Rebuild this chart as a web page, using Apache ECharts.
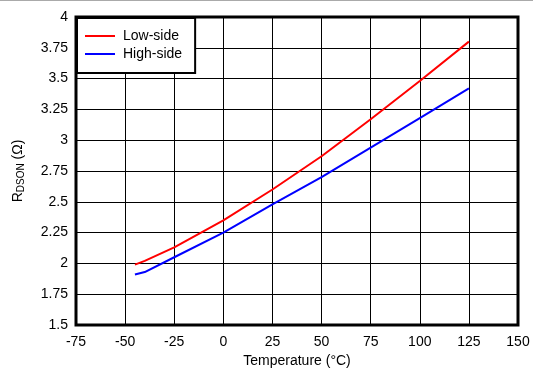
<!DOCTYPE html>
<html>
<head>
<meta charset="utf-8">
<script src="https://cdn.jsdelivr.net/npm/echarts@6/dist/echarts.min.js"></script>
<style>
html, body { margin: 0; padding: 0; background: #fff; }
#chart { width: 533px; height: 373px; }
</style>
</head>
<body>
<div id="chart"></div>
<script>
// temperatures (°C) and RDSON (ohm)
var temps = [-45, -40, -25, 0, 25, 50, 75, 100, 125];
var lowSide = [1.99, 2.02, 2.13, 2.35, 2.6, 2.87, 3.17, 3.48, 3.8];
var highSide = [1.91, 1.93, 2.05, 2.25, 2.48, 2.7, 2.94, 3.18, 3.42];

function pairs(xs, ys) {
    var out = [];
    for (var i = 0; i < xs.length; i++) {
        out.push([xs[i], ys[i]]);
    }
    return out;
}

var myChart = echarts.init(document.getElementById('chart'));
var font = 'Liberation Sans, Arial, sans-serif';

myChart.setOption({
    animation: false,
    textStyle: { fontFamily: font },
    graphic: [
        { type: 'rect', shape: { x: 0, y: 0, width: 533, height: 1 }, style: { fill: '#aaa' } }
    ],
    grid: {
        left: 76, right: 15, top: 17, bottom: 48,
        show: true,
        borderColor: '#000',
        borderWidth: 3
    },
    legend: {
        orient: 'vertical',
        left: 77, top: 18,
        backgroundColor: '#fff',
        borderColor: '#000',
        borderWidth: 2,
        padding: [11, 13, 12, 8],
        itemGap: 4,
        itemWidth: 30,
        itemHeight: 2,
        icon: 'rect',
        textStyle: { fontSize: 14, color: '#000', fontFamily: font, padding: [0, 0, 0, 3] },
        data: ['Low-side', 'High-side']
    },
    xAxis: {
        type: 'value',
        min: -75, max: 150, interval: 25,
        name: 'Temperature (°C)',
        nameLocation: 'middle',
        nameGap: 27,
        nameTextStyle: { fontSize: 14, color: '#000', fontFamily: font },
        axisLine: { show: false },
        axisTick: { show: false },
        axisLabel: { fontSize: 14, color: '#000', margin: 10 },
        splitLine: { lineStyle: { color: '#000', width: 1 } }
    },
    yAxis: {
        type: 'value',
        min: 1.5, max: 4, interval: 0.25,
        name: '{a|R}{b|DSON}{a| (Ω)}',
        nameLocation: 'middle',
        nameGap: 50,
        nameTextStyle: {
            rich: {
                a: { fontSize: 14, color: '#000', fontFamily: font },
                b: { fontSize: 10, color: '#000', fontFamily: font, verticalAlign: 'bottom', padding: [6, 0, 0, 0] }
            }
        },
        axisLine: { show: false },
        axisTick: { show: false },
        axisLabel: { fontSize: 14, color: '#000', margin: 8 },
        splitLine: { lineStyle: { color: '#000', width: 1 } }
    },
    series: [
        {
            name: 'Low-side',
            type: 'line',
            data: pairs(temps, lowSide),
            showSymbol: false,
            symbol: 'none',
            lineStyle: { color: '#ff0000', width: 2 },
            itemStyle: { color: '#ff0000' }
        },
        {
            name: 'High-side',
            type: 'line',
            data: pairs(temps, highSide),
            showSymbol: false,
            symbol: 'none',
            lineStyle: { color: '#0000ff', width: 2 },
            itemStyle: { color: '#0000ff' }
        }
    ]
});
</script>
</body>
</html>
